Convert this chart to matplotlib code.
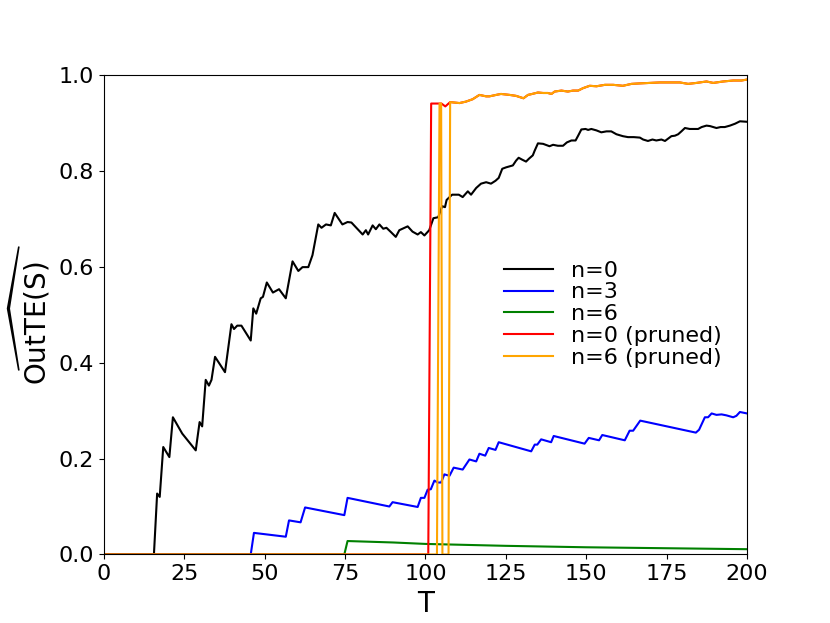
import matplotlib
matplotlib.use("Agg")
import matplotlib.pyplot as plt

# values
t_n0 = [0, 15.6, 16.6, 17.4, 18.5, 20.4, 21.5, 24.4, 28.6, 29.8, 30.6, 31.7, 32.7, 33.5, 34.6, 37.7,
        39.7, 40.5, 41.5, 42.8, 45.7, 46.5, 47.4, 48.8, 49.5, 50.7, 52.6, 54.5, 56.6, 58.7, 60.5,
        61.8, 63.6, 64.9, 66.7, 67.7, 69.1, 70.6, 71.8, 74.2, 75.8, 77.0, 78.4, 80.5, 81.5, 82.2,
        83.6, 84.6, 85.7, 86.9, 87.9, 89.3, 90.8, 91.9, 92.9, 94.5, 96.0, 97.6, 98.6, 99.7, 101.2,
        102.5, 104.0, 105.2, 106.1, 106.6, 108.3, 110.4, 111.6, 113.2, 114.2, 115.8, 117.3, 118.9,
        120.4, 121.8, 122.8, 123.9, 125.1, 127.2, 128.2, 129.0, 130.1, 131.3, 132.2, 133.4, 134.0,
        135.0, 136.6, 138.6, 139.7, 141.2, 142.8, 144.0, 145.4, 146.7, 147.5, 148.5, 149.8, 150.6,
        151.6, 153.2, 154.7, 156.3, 157.8, 159.4, 161.4, 163.0, 164.8, 166.7, 167.7, 169.2, 170.6,
        171.8, 173.4, 174.5, 175.5, 176.5, 177.6, 178.6, 179.6, 180.7, 182.2, 184.8, 185.9, 187.4,
        188.5, 189.5, 190.5, 191.8, 193.1, 194.7, 196.3, 197.8, 200]
y_n0 = [0, 0, 0.127, 0.120, 0.224, 0.203, 0.286, 0.252, 0.217, 0.276, 0.267, 0.364, 0.352, 0.364, 0.412, 0.380,
        0.480, 0.470, 0.477, 0.477, 0.446, 0.513, 0.502, 0.534, 0.537, 0.567, 0.546, 0.553, 0.534, 0.611, 0.591,
        0.599, 0.599, 0.624, 0.688, 0.681, 0.688, 0.686, 0.712, 0.688, 0.693, 0.692, 0.682, 0.667, 0.676, 0.667,
        0.686, 0.678, 0.688, 0.679, 0.681, 0.672, 0.662, 0.676, 0.679, 0.684, 0.673, 0.667, 0.672, 0.665, 0.676,
        0.701, 0.703, 0.726, 0.724, 0.739, 0.750, 0.750, 0.745, 0.757, 0.750, 0.764, 0.773, 0.776,
        0.773, 0.779, 0.785, 0.804, 0.807, 0.811, 0.821, 0.827, 0.823, 0.819, 0.825, 0.832, 0.842,
        0.857, 0.856, 0.851, 0.854, 0.852, 0.852, 0.859, 0.863, 0.863, 0.873, 0.886, 0.887, 0.885,
        0.887, 0.884, 0.880, 0.882, 0.882, 0.876, 0.872, 0.870, 0.870, 0.869, 0.865, 0.862, 0.865,
        0.863, 0.865, 0.862, 0.867, 0.872, 0.873, 0.876, 0.882, 0.889, 0.887, 0.887, 0.891, 0.894,
        0.893, 0.891, 0.889, 0.891, 0.891, 0.894, 0.898, 0.903, 0.902]

t_n3 = [0, 45.7, 46.7, 56.6, 57.6, 61.2, 62.6, 74.8, 75.8, 88.8, 89.8, 97.6, 98.6, 99.7, 100.7, 101.7,
        102.8, 103.8, 104.9, 105.9, 107.5, 108.8, 111.6, 113.7, 115.8, 116.8, 118.6, 119.7, 121.8,
        122.8, 132.9, 134.0, 134.8, 136.0, 139.1, 139.9, 149.5, 150.8, 154.0, 155.0, 162.0, 163.5,
        164.6, 166.8, 184.1, 185.1, 186.9, 187.9, 189.0, 190.5, 192.1, 193.6, 195.7, 196.7, 197.8, 200]
y_n3 = [0, 0, 0.045, 0.037, 0.071, 0.067, 0.098, 0.082, 0.118, 0.100, 0.109, 0.099, 0.118, 0.118, 0.135, 0.136,
        0.154, 0.150, 0.150, 0.167, 0.164, 0.181, 0.177, 0.198, 0.194, 0.210, 0.206, 0.222, 0.218,
        0.234, 0.215, 0.229, 0.229, 0.240, 0.234, 0.247, 0.231, 0.243, 0.238, 0.249, 0.238, 0.258,
        0.258, 0.279, 0.254, 0.260, 0.286, 0.286, 0.294, 0.291, 0.292, 0.290, 0.286, 0.289, 0.297, 0.294]

t_n6 = [0, 74.8, 75.8, 90, 100, 125, 150, 175, 200]
y_n6 = [0, 0, 0.028, 0.025, 0.022, 0.018, 0.015, 0.013, 0.011]

# common tail of both pruned curves
t_tail = [107.7, 110.6, 112.6, 114.7, 116.8, 118.9, 119.9, 122, 123.5, 126.2, 128.2, 130.5, 131.9,
          133.2, 135.0, 136.6, 138.1, 139.2, 140.2, 142.3, 144.3, 145.9, 147.5, 149.0, 151.1, 153.2,
          155.8, 158.4, 161.4, 164.1, 166.7, 169.8, 172.9, 176.0, 179.1, 181.7, 184.3, 187.4, 189.5,
          192.6, 195.7, 198.3, 200]
y_tail = [0.943, 0.941, 0.944, 0.949, 0.958, 0.955, 0.955, 0.958, 0.960, 0.958, 0.956, 0.951, 0.958,
          0.960, 0.963, 0.962, 0.962, 0.960, 0.965, 0.967, 0.965, 0.967, 0.967, 0.972, 0.977, 0.976,
          0.979, 0.979, 0.977, 0.981, 0.982, 0.983, 0.984, 0.984, 0.984, 0.981, 0.983, 0.986, 0.983,
          0.986, 0.988, 0.988, 0.990]

t_n0p = [0, 100.9, 101.8, 105.0, 106.2] + t_tail
y_n0p = [0, 0, 0.940, 0.940, 0.934] + y_tail

t_n6p = [0, 103.6, 104.4, 104.9, 105.3, 107.2] + t_tail
y_n6p = [0, 0, 0.940, 0.940, 0, 0] + y_tail

fig = plt.figure(figsize=(8.3, 6.23), dpi=100)
ax = fig.add_subplot(111)

ax.plot(t_n0, y_n0, color="black", lw=1.5, label="n=0")
ax.plot(t_n3, y_n3, color="blue", lw=1.5, label="n=3")
ax.plot(t_n6, y_n6, color="green", lw=1.5, label="n=6")
ax.plot(t_n0p, y_n0p, color="red", lw=1.5, label="n=0 (pruned)")
ax.plot(t_n6p, y_n6p, color="orange", lw=1.5, label="n=6 (pruned)")

ax.set_xlim(0, 200)
ax.set_ylim(0, 1.0)
ax.set_xlabel("T", fontsize=20)
ax.set_ylabel(r"$\widehat{\mathrm{OutTE(S)}}$", fontsize=20)
ax.tick_params(labelsize=16)

ax.legend(loc="center left", bbox_to_anchor=(0.591, 0.501), frameon=False,
          fontsize=16, labelspacing=0.08, handlelength=2.2)

plt.savefig("out.png", dpi=100)
